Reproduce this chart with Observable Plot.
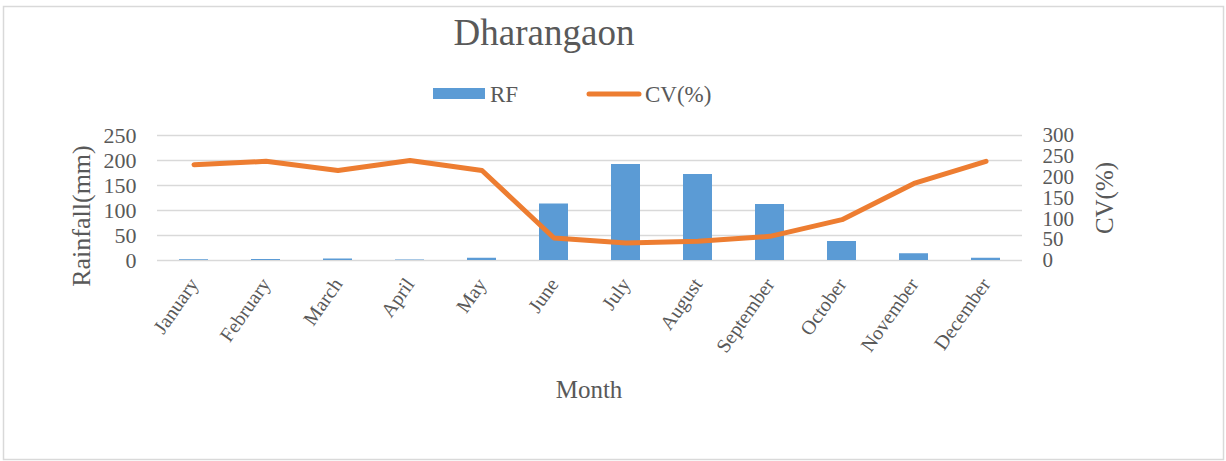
<!DOCTYPE html>
<html>
<head>
<meta charset="utf-8">
<script src="https://cdn.jsdelivr.net/npm/d3@7"></script>
<script src="https://cdn.jsdelivr.net/npm/@observablehq/plot@0.6"></script>
<style>
  html, body { margin: 0; padding: 0; background: #fff; }
  #chart { position: relative; width: 1226px; height: 461px; }
</style>
</head>
<body>
<div id="chart"></div>
<script>
const months = ["January","February","March","April","May","June","July","August","September","October","November","December"];
const rainfall = [1.5, 2, 3, 1, 4.5, 113, 192, 172, 112, 38, 13.5, 4.5];
const cvPercent = [230, 238, 216, 240, 216, 54, 42, 46, 58, 98, 185, 238];
const leftTicks = [0, 50, 100, 150, 200, 250];
const rightTicks = [0, 50, 100, 150, 200, 250, 300];
const title = "Dharangaon";
const seriesNames = ["RF", "CV(%)"];

const leftMax = 250, rightMax = 300;
const toLeft = v => v * leftMax / rightMax;
const data = months.map((m, i) => ({month: m, rf: rainfall[i], cv: cvPercent[i]}));

const font = "'Liberation Serif', 'Times New Roman', serif";
const textColor = "#595959";

const plot = Plot.plot({
  width: 1226,
  height: 461,
  marginLeft: 157,
  marginRight: 204,
  marginTop: 135,
  marginBottom: 201,
  style: {fontFamily: font, fontSize: "22px", color: textColor, background: "transparent"},
  x: {type: "band", domain: months, paddingInner: 0.6, paddingOuter: 0.3},
  y: {domain: [0, leftMax]},
  marks: [
    Plot.gridY(leftTicks, {stroke: "#d9d9d9", strokeOpacity: 1, strokeWidth: 1.3}),
    Plot.barY(data, {x: "month", y: "rf", fill: "#5B9BD5"}),
    Plot.line(data, {x: "month", y: d => toLeft(d.cv), stroke: "#ED7D31", strokeWidth: 5, strokeLinecap: "round", strokeLinejoin: "round"}),
    Plot.axisY(leftTicks, {anchor: "left", tickSize: 0, tickPadding: 21, label: null, fontSize: 22}),
    Plot.axisY(rightTicks.map(toLeft), {anchor: "right", tickSize: 0, tickPadding: 20, label: null, fontSize: 21,
      tickFormat: d => String(Math.round(d * rightMax / leftMax))}),
    Plot.axisX({tickRotate: -55, tickSize: 0, tickPadding: 20, label: null, fontSize: 20})
  ]
});
plot.style.position = "absolute";
plot.style.left = "0px";
plot.style.top = "0px";
document.getElementById("chart").appendChild(plot);

const svg = d3.select(plot);
// outer border
svg.insert("rect", ":first-child")
  .attr("x", 3.5).attr("y", 6.5).attr("width", 1220).attr("height", 453)
  .attr("fill", "none").attr("stroke", "#d9d9d9").attr("stroke-width", 1.5);

const addText = (x, y, str, size, opts = {}) => {
  const t = svg.append("text")
    .attr("x", x).attr("y", y)
    .attr("fill", textColor)
    .attr("font-family", font)
    .attr("font-size", size)
    .attr("text-anchor", opts.anchor || "start")
    .text(str);
  if (opts.rotate) t.attr("transform", `rotate(${opts.rotate},${x},${y})`);
  if (opts.baseline) t.attr("dominant-baseline", opts.baseline);
  return t;
};

// title
addText(544, 45, title, 37, {anchor: "middle"});
// legend
svg.append("rect").attr("x", 433).attr("y", 88).attr("width", 52).attr("height", 11).attr("fill", "#5B9BD5");
addText(490, 102, seriesNames[0], 23);
svg.append("line").attr("x1", 589).attr("x2", 639).attr("y1", 94).attr("y2", 94)
  .attr("stroke", "#ED7D31").attr("stroke-width", 5).attr("stroke-linecap", "round");
addText(645, 102, seriesNames[1], 23);
// axis titles
addText(81, 216, "Rainfall(mm)", 26, {anchor: "middle", rotate: -90, baseline: "central"});
addText(1104, 198, "CV(%)", 25, {anchor: "middle", rotate: -90, baseline: "central"});
addText(589, 398, "Month", 25, {anchor: "middle"});
</script>
</body>
</html>
